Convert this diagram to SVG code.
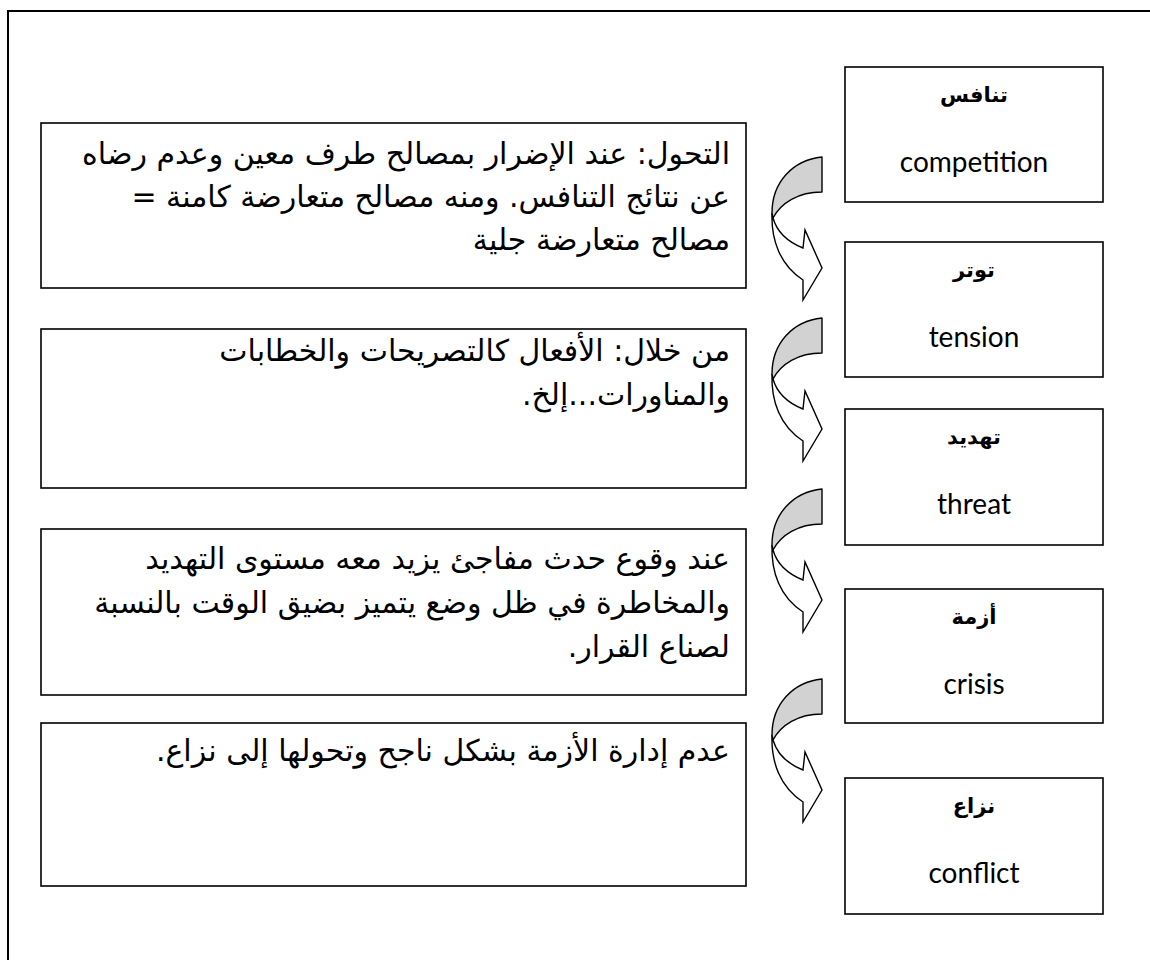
<svg xmlns="http://www.w3.org/2000/svg" width="1150" height="960" viewBox="0 0 1150 960">
<style>
.frame{fill:none;stroke:#000;stroke-width:2}
.box{fill:#fff;stroke:#000;stroke-width:1.6}
.ar{font-family:"DejaVu Sans",sans-serif;font-size:30px;fill:#000}
.lab{font-family:"DejaVu Sans",sans-serif;font-size:21px;font-weight:bold;fill:#000}
.en{font-family:Lato,"Open Sans",sans-serif;font-size:28px;fill:#000}
.band{fill:#d2d2d2;stroke:#000;stroke-width:1.4;stroke-linejoin:round}
.head{fill:#fff;stroke:#000;stroke-width:1.4;stroke-linejoin:miter}
</style>
<defs>
<g id="carrow">
<path class="head" d="M772,213 C771,240 780,265 803,280 L803,300 L822,268 L805,230 L803,248 C788,242 777,232 773,218 Z"/>
<path class="band" d="M822,157 C793,160 772,182 772,213 L773,218 C781,203 798,192 822,192 Z"/>
</g>
</defs>
<path class="frame" d="M8,960 V11 H1150"/>

<g id="desc1">
<rect class="box" x="41" y="123" width="705" height="165"/>
<text class="ar" x="730" y="164" direction="rtl" text-anchor="start">التحول: عند الإضرار بمصالح طرف معين وعدم رضاه</text>
<text class="ar" x="730" y="207" direction="rtl" text-anchor="start">عن نتائج التنافس. ومنه مصالح متعارضة كامنة =</text>
<text class="ar" x="730" y="250" direction="rtl" text-anchor="start">مصالح متعارضة جلية</text>
</g>
<g id="desc2">
<rect class="box" x="41" y="329" width="705" height="159"/>
<text class="ar" x="730" y="361" direction="rtl" text-anchor="start">من خلال: الأفعال كالتصريحات والخطابات</text>
<text class="ar" x="730" y="405" direction="rtl" text-anchor="start">والمناورات...إلخ.</text>
</g>
<g id="desc3">
<rect class="box" x="41" y="529" width="705" height="166"/>
<text class="ar" x="730" y="569" direction="rtl" text-anchor="start">عند وقوع حدث مفاجئ يزيد معه مستوى التهديد</text>
<text class="ar" x="730" y="613" direction="rtl" text-anchor="start">والمخاطرة في ظل وضع يتميز بضيق الوقت بالنسبة</text>
<text class="ar" x="730" y="657" direction="rtl" text-anchor="start">لصناع القرار.</text>
</g>
<g id="desc4">
<rect class="box" x="41" y="723" width="705" height="163"/>
<text class="ar" x="730" y="761" direction="rtl" text-anchor="start">عدم إدارة الأزمة بشكل ناجح وتحولها إلى نزاع.</text>
</g>

<g id="stage1">
<rect class="box" x="845" y="67" width="258" height="135"/>
<text class="lab" x="974" y="102" text-anchor="middle">تنافس</text>
<text class="en" x="974" y="172" text-anchor="middle">competition</text>
</g>
<g id="stage2">
<rect class="box" x="845" y="242" width="258" height="135"/>
<text class="lab" x="974" y="277" text-anchor="middle">توتر</text>
<text class="en" x="974" y="347" text-anchor="middle">tension</text>
</g>
<g id="stage3">
<rect class="box" x="845" y="409" width="258" height="136"/>
<text class="lab" x="974" y="444" text-anchor="middle">تهديد</text>
<text class="en" x="974" y="514" text-anchor="middle">threat</text>
</g>
<g id="stage4">
<rect class="box" x="845" y="589" width="258" height="134"/>
<text class="lab" x="974" y="624" text-anchor="middle">أزمة</text>
<text class="en" x="974" y="694" text-anchor="middle">crisis</text>
</g>
<g id="stage5">
<rect class="box" x="845" y="778" width="258" height="136"/>
<text class="lab" x="974" y="813" text-anchor="middle">نزاع</text>
<text class="en" x="974" y="883" text-anchor="middle">conflict</text>
</g>

<g id="connectors">
<use href="#carrow"/>
<use href="#carrow" transform="translate(0,161)"/>
<use href="#carrow" transform="translate(0,332)"/>
<use href="#carrow" transform="translate(0,522)"/>
</g>
</svg>
